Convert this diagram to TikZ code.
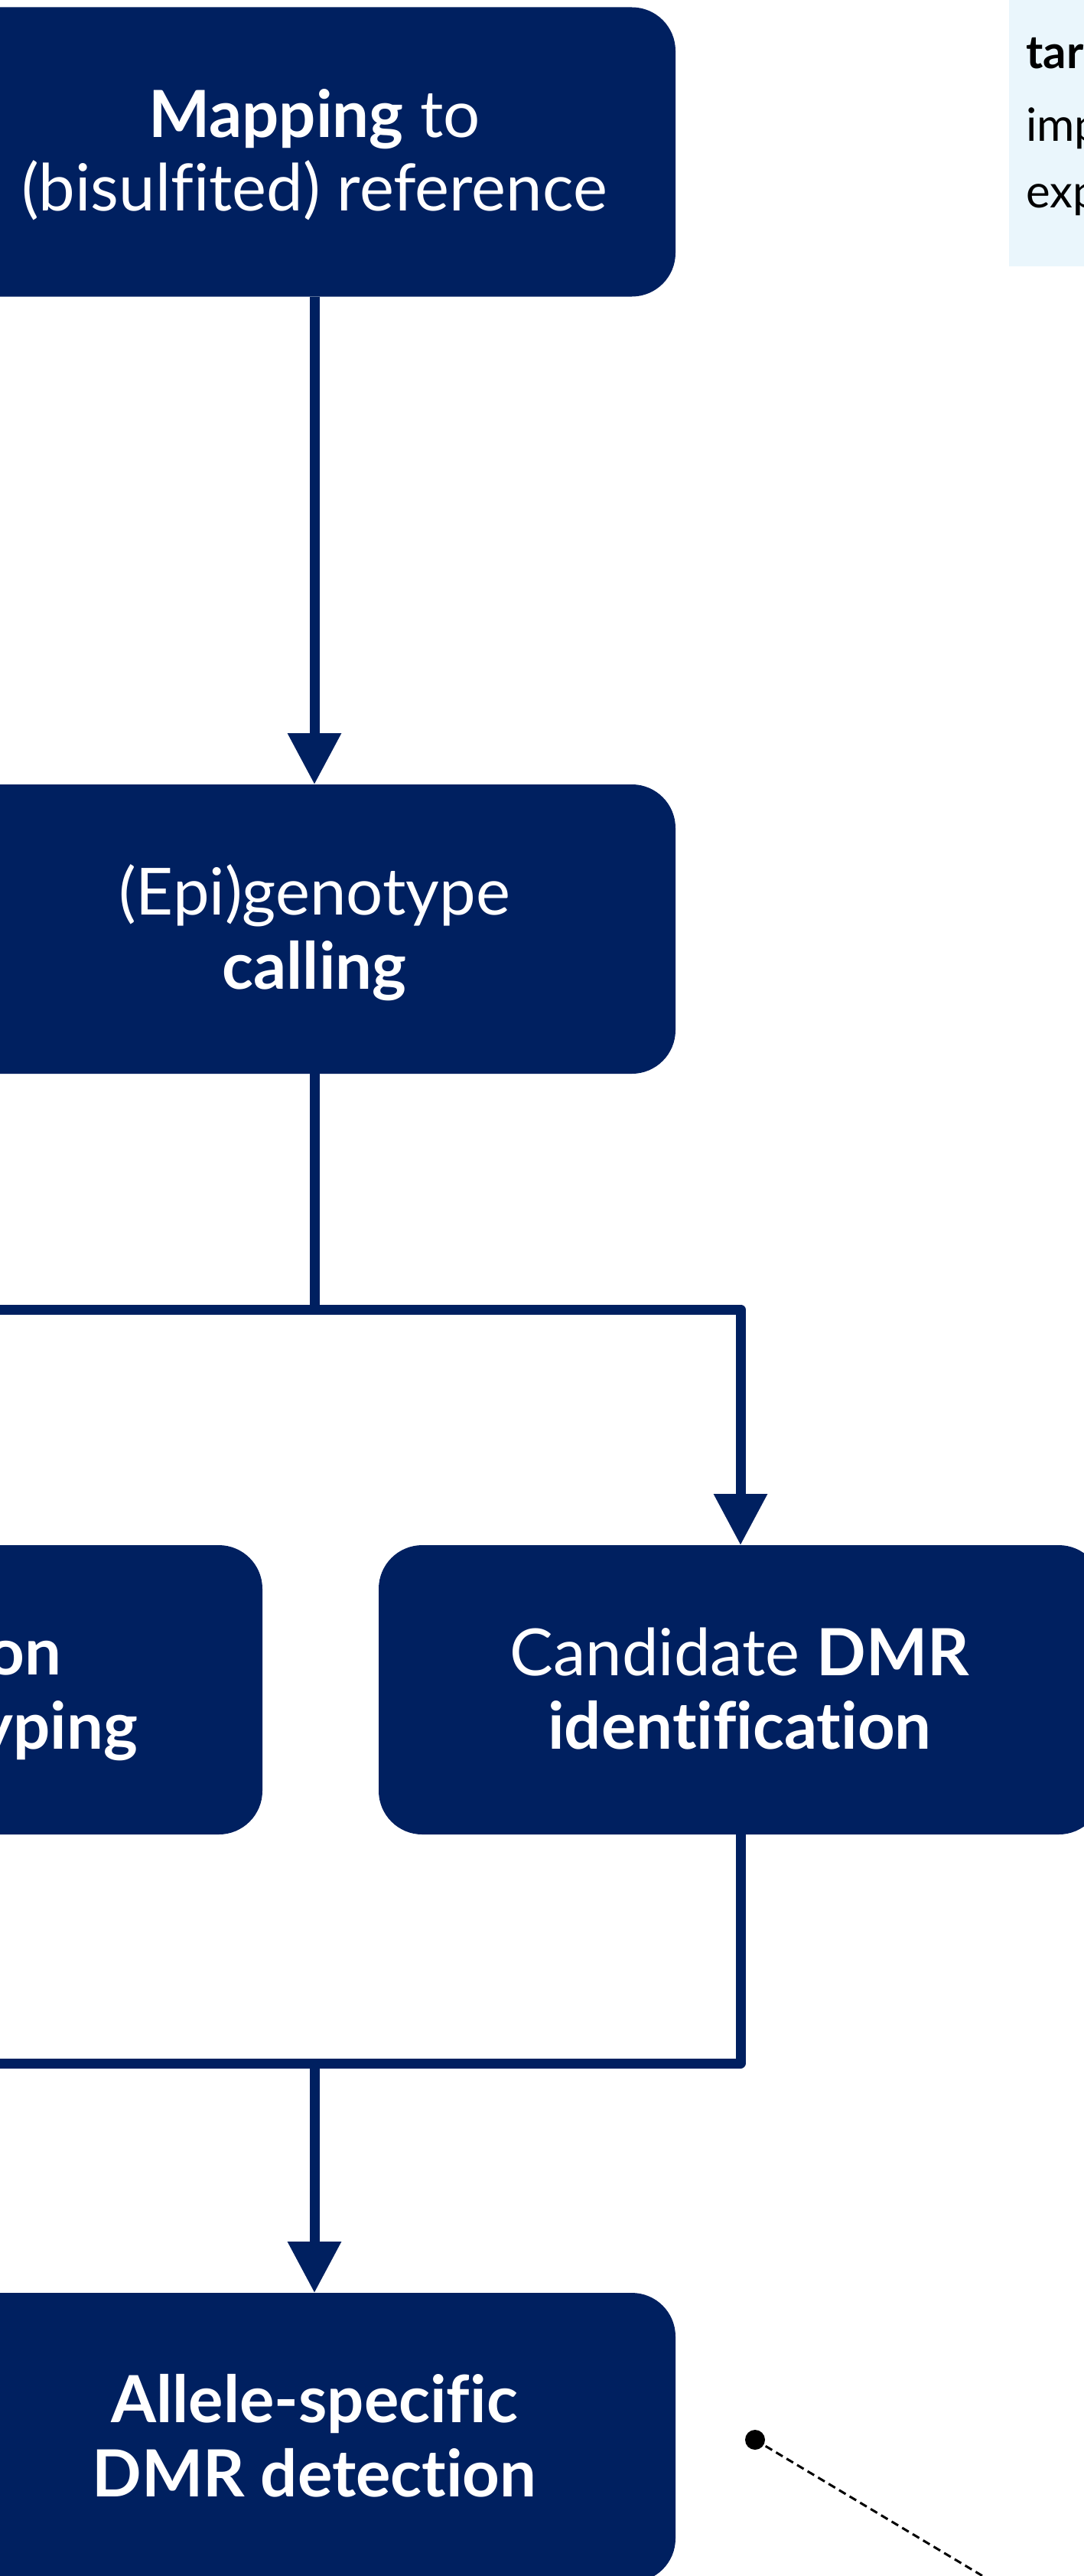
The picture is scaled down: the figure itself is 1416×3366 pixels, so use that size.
\documentclass[tikz,border=0pt]{standalone}
\usepackage{fontspec}
\setmainfont{Lato}[Ligatures=NoCommon]
\usetikzlibrary{arrows.meta}
\definecolor{navy}{HTML}{002060}
\definecolor{notebg}{HTML}{EAF6FC}
\begin{document}
\begin{tikzpicture}[x=1pt,y=-1pt,
  box/.style={draw=none, fill=navy, rounded corners=57pt, minimum width=944pt, minimum height=378pt, inner sep=0pt, outer sep=0pt},
  lbl/.style={text=white, inner sep=0pt, anchor=base, font=\fontsize{85}{98}\selectfont},
  flow/.style={draw=navy, line width=13pt, line join=round},
  arr/.style={flow, -{Triangle[width=67pt,length=67pt]}},
  note/.style={text=black, inner sep=0pt, anchor=base west, font=\fontsize{60}{70}\selectfont},
  dotst/.style={circle, fill=black, inner sep=0pt, minimum size=26pt},
  notebox/.style={fill=notebg, anchor=north west, minimum width=200pt, minimum height=370pt, inner sep=0pt}
]
\useasboundingbox (0,0) rectangle (1416,3366);

% note box (top right, clipped by the page edge as in the reference)
\node[notebox] (nb) at (1319,-22) {};
\node[note] (n1) at (1341,90) {\textbf{targ}};
\node[note] (n2) at (1341,185) {imp};
\node[note] (n3) at (1341,272) {exp};

% boxes
\node[box] (map) at (411,198.5) {};
\node[lbl] (mapA) at (411,180) {\textbf{Mapping} to};
\node[lbl] (mapB) at (411,276) {(bisulfited) reference};

\node[box] (geno) at (411,1214) {};
\node[lbl] (genoA) at (411,1195) {(Epi)genotype};
\node[lbl] (genoB) at (411,1292) {\textbf{calling}};

\node[box, minimum width=946pt] (left) at (-130,2208) {};
\node[lbl, anchor=base east] (leftA) at (80,2188) {\textbf{SNP detection}};
\node[lbl, anchor=base east] (leftB) at (180,2285) {\textbf{and genotyping}};

\node[box, minimum width=946pt] (cand) at (968,2208) {};
\node[lbl] (candA) at (967,2189) {Candidate \textbf{DMR}};
\node[lbl] (candB) at (967,2285) {\textbf{identification}};

\node[box] (asm) at (411,3185) {};
\node[lbl] (asmA) at (411,3165) {\textbf{Allele-specific}};
\node[lbl] (asmB) at (411,3262) {\textbf{DMR detection}};

% connectors
\coordinate (split) at (411,1711);
\coordinate (merge) at (411,2696);
\draw[arr] (map.south) -- (geno.north);
\draw[flow] (geno.south) -- (split);
\draw[arr] (split) -| (cand.north);
\draw[arr] (split) -| (left.north);
\draw[flow] (left.south) |- (merge);
\draw[flow] (cand.south) |- (merge);
\draw[arr] (merge) -- (asm.north);

% dot with dashed leader
\node[dotst] (dot) at (987,3188) {};
\coordinate (dashend) at (1420,3447);
\draw[black, line width=3pt, dash pattern=on 10pt off 6pt] (dot.center) -- (dashend);
\end{tikzpicture}
\end{document}
